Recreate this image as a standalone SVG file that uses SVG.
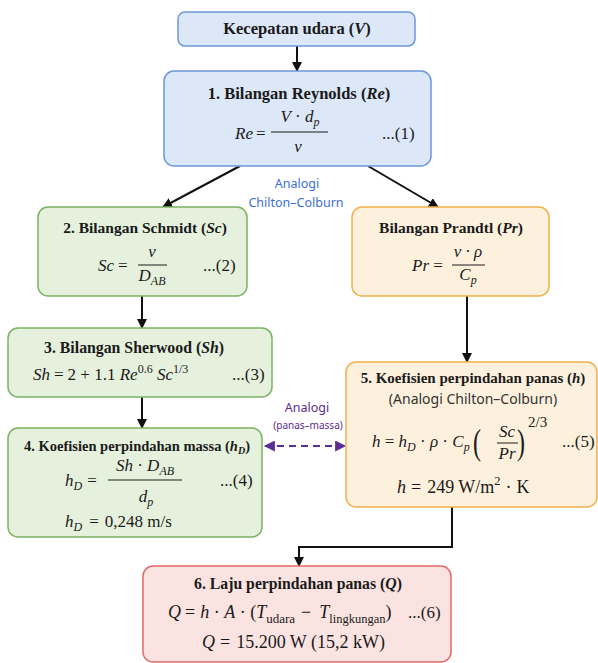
<svg xmlns="http://www.w3.org/2000/svg" width="598" height="663" viewBox="0 0 598 663">
<defs>
<style>
.blue{fill:#dce7f7;stroke:#6a98dc;stroke-width:1.5}
.green{fill:#e6f1dd;stroke:#7bb363;stroke-width:1.5}
.orange{fill:#fdf1dd;stroke:#f0b04c;stroke-width:1.5}
.red{fill:#fbe3e1;stroke:#e46a6a;stroke-width:1.5}
.t{font-family:"Liberation Serif",serif;font-weight:bold;font-size:15px;text-anchor:middle;fill:#1a1a1a}
.f{font-family:"Liberation Serif",serif;font-size:17px;fill:#1a1a1a}
.m{text-anchor:middle}
.i{font-style:italic}
.sb{font-size:12px}
.sans{font-family:"Noto Sans","DejaVu Sans",sans-serif}
.bar{stroke:#1a1a1a;stroke-width:1}
.conn{fill:none;stroke:#111;stroke-width:2}
.dash{fill:none;stroke:#5b2d92;stroke-width:2;stroke-dasharray:7 5}
</style>
<marker id="ah" viewBox="0 0 10 10" refX="9" refY="5" markerWidth="10" markerHeight="10" markerUnits="userSpaceOnUse" orient="auto">
<path d="M0,0 L10,5 L0,10 Z" fill="#111"/>
</marker>
<marker id="ahp" viewBox="0 0 10 10" refX="9" refY="5" markerWidth="12" markerHeight="11" markerUnits="userSpaceOnUse" orient="auto-start-reverse">
<path d="M0,0 L10,5 L0,10 Z" fill="#5b2d92"/>
</marker>
</defs>

<g id="connectors">
<line class="conn" x1="297" y1="46" x2="297" y2="71" marker-end="url(#ah)"/>
<line class="conn" x1="240" y1="166" x2="163" y2="207" marker-end="url(#ah)"/>
<line class="conn" x1="368" y1="166" x2="438" y2="207" marker-end="url(#ah)"/>
<line class="conn" x1="142" y1="296" x2="142" y2="328" marker-end="url(#ah)"/>
<line class="conn" x1="142" y1="397" x2="142" y2="428" marker-end="url(#ah)"/>
<line class="conn" x1="467" y1="296" x2="467" y2="362" marker-end="url(#ah)"/>
<path class="conn" d="M452,507 V547 H299 V566" marker-end="url(#ah)"/>
<line class="dash" x1="265" y1="446" x2="345" y2="446" marker-start="url(#ahp)" marker-end="url(#ahp)"/>
<text class="sans" x="297" y="188" font-size="12.5" fill="#3b6fd4" text-anchor="middle">Analogi</text>
<text class="sans" x="296" y="207" font-size="12.5" fill="#3b6fd4" text-anchor="middle">Chilton–Colburn</text>
<text class="sans" x="307" y="412" font-size="12.5" fill="#5b2d92" text-anchor="middle">Analogi</text>
<text class="sans" x="308" y="429" font-size="10" fill="#5b2d92" text-anchor="middle">(panas–massa)</text>
</g>

<g id="node-v">
<rect class="blue" x="178" y="12" width="237" height="34" rx="7"/>
<text class="t" x="297" y="34" style="font-size:16.5px">Kecepatan udara (<tspan class="i">V</tspan>)</text>
</g>

<g id="node-re">
<rect class="blue" x="164" y="71" width="267" height="95" rx="10"/>
<text class="t" x="299" y="99" style="font-size:16.5px">1. Bilangan Reynolds (<tspan class="i">Re</tspan>)</text>
<text class="f" x="235" y="139"><tspan class="i">Re</tspan><tspan dx="3">=</tspan></text>
<text class="f m" x="300" y="122"><tspan class="i">V</tspan> · <tspan class="i">d</tspan><tspan class="i sb" dy="4">p</tspan></text>
<line class="bar" x1="271" y1="132" x2="328" y2="132"/>
<text class="f m i" x="298" y="152">ν</text>
<text class="f" x="382" y="139">...(1)</text>
</g>

<g id="node-sc">
<rect class="green" x="38" y="207" width="209" height="89" rx="10"/>
<text class="t" x="145" y="233" style="font-size:15.5px">2. Bilangan Schmidt (<tspan class="i">Sc</tspan>)</text>
<text class="f" x="98" y="271"><tspan class="i">Sc</tspan><tspan dx="4">=</tspan></text>
<text class="f m i" x="152" y="257">ν</text>
<line class="bar" x1="138" y1="265" x2="167" y2="265"/>
<text class="f m i" x="152" y="281">D<tspan class="sb" dy="4">AB</tspan></text>
<text class="f" x="203" y="271">...(2)</text>
</g>

<g id="node-sh">
<rect class="green" x="8" y="328" width="264" height="69" rx="10"/>
<text class="t" x="134" y="353" style="font-size:15.8px">3. Bilangan Sherwood (<tspan class="i">Sh</tspan>)</text>
<text class="f" x="33" y="380"><tspan class="i">Sh</tspan><tspan dx="4">=</tspan><tspan dx="4">2 + 1.1 </tspan><tspan class="i">Re</tspan><tspan class="sb" dy="-7">0.6</tspan><tspan dy="7"> </tspan><tspan class="i">Sc</tspan><tspan class="sb" dy="-7">1/3</tspan></text>
<text class="f" x="232" y="380">...(3)</text>
</g>

<g id="node-hd">
<rect class="green" x="8" y="428" width="254" height="109" rx="10"/>
<text class="t" x="137" y="451" style="font-size:14.5px">4. Koefisien perpindahan massa (<tspan class="i">h</tspan><tspan class="i" style="font-size:10px" dy="3">D</tspan><tspan dy="-3">)</tspan></text>
<text class="f" x="65" y="486"><tspan class="i">h</tspan><tspan class="i sb" dy="4">D</tspan><tspan dy="-4" dx="5">=</tspan></text>
<text class="f m" x="145" y="471"><tspan class="i">Sh</tspan> · <tspan class="i">D</tspan><tspan class="i sb" dy="4">AB</tspan></text>
<line class="bar" x1="108" y1="480" x2="182" y2="480"/>
<text class="f m i" x="146" y="502">d<tspan class="sb" dy="4">p</tspan></text>
<text class="f" x="220" y="486">...(4)</text>
<text class="f" x="65" y="527"><tspan class="i">h</tspan><tspan class="i sb" dy="4">D</tspan><tspan dy="-4" dx="7">=</tspan><tspan dx="6">0,248 m/s</tspan></text>
</g>

<g id="node-pr">
<rect class="orange" x="352" y="207" width="197" height="89" rx="10"/>
<text class="t" x="451" y="233" style="font-size:15.5px">Bilangan Prandtl (<tspan class="i">Pr</tspan>)</text>
<text class="f" x="412" y="271"><tspan class="i">Pr</tspan> =</text>
<text class="f m i" x="468" y="257">ν · ρ</text>
<line class="bar" x1="452" y1="265" x2="485" y2="265"/>
<text class="f m i" x="468" y="280">C<tspan class="sb" dy="4">p</tspan></text>
</g>

<g id="node-h">
<rect class="orange" x="346" y="362" width="251" height="145" rx="10"/>
<text class="t" x="473" y="383">5. Koefisien perpindahan panas (<tspan class="i">h</tspan>)</text>
<text class="sans" x="473" y="404" font-size="14" fill="#333" text-anchor="middle">(Analogi Chilton–Colburn)</text>
<text class="f" x="372" y="447"><tspan class="i">h</tspan> = <tspan class="i">h</tspan><tspan class="i sb" dy="4">D</tspan><tspan dy="-4"> · </tspan><tspan class="i">ρ</tspan> · <tspan class="i">C</tspan><tspan class="i sb" dy="4">p</tspan></text>
<text class="f" transform="translate(473,454) scale(1,1.45)" style="font-size:24px">(</text>
<text class="f m i" x="507" y="437">Sc</text>
<line class="bar" x1="497" y1="443" x2="518" y2="443"/>
<text class="f m i" x="507" y="459">Pr</text>
<text class="f" transform="translate(517,454) scale(1,1.45)" style="font-size:24px">)</text>
<text class="f" x="528" y="427" style="font-size:15px">2/3</text>
<text class="f" x="562" y="447">...(5)</text>
<text class="f" x="397" y="493" style="font-size:18px"><tspan class="i">h</tspan><tspan dx="5">=</tspan><tspan dx="6">249 W/m</tspan><tspan style="font-size:12.5px" dy="-8">2</tspan><tspan dy="8" dx="5">·</tspan><tspan dx="5">K</tspan></text>
</g>

<g id="node-q">
<rect class="red" x="143" y="566" width="308" height="96" rx="10"/>
<text class="t" x="298" y="589" style="font-size:15.75px">6. Laju perpindahan panas (<tspan class="i">Q</tspan>)</text>
<text class="f" x="168" y="618" style="font-size:18px"><tspan class="i">Q</tspan><tspan dx="4">=</tspan><tspan dx="5" class="i">h</tspan> · <tspan class="i">A</tspan> · (<tspan class="i">T</tspan><tspan style="font-size:13px" dy="5">udara</tspan><tspan dy="-5" dx="6">−</tspan><tspan dx="8" class="i">T</tspan><tspan style="font-size:12.5px" dy="5">lingkungan</tspan><tspan dy="-5">)</tspan></text>
<text class="f" x="408" y="618">...(6)</text>
<text class="f" x="202" y="648" style="font-size:18px"><tspan class="i">Q</tspan><tspan dx="5">=</tspan><tspan dx="6">15.200 W (15,2 kW)</tspan></text>
</g>
</svg>
